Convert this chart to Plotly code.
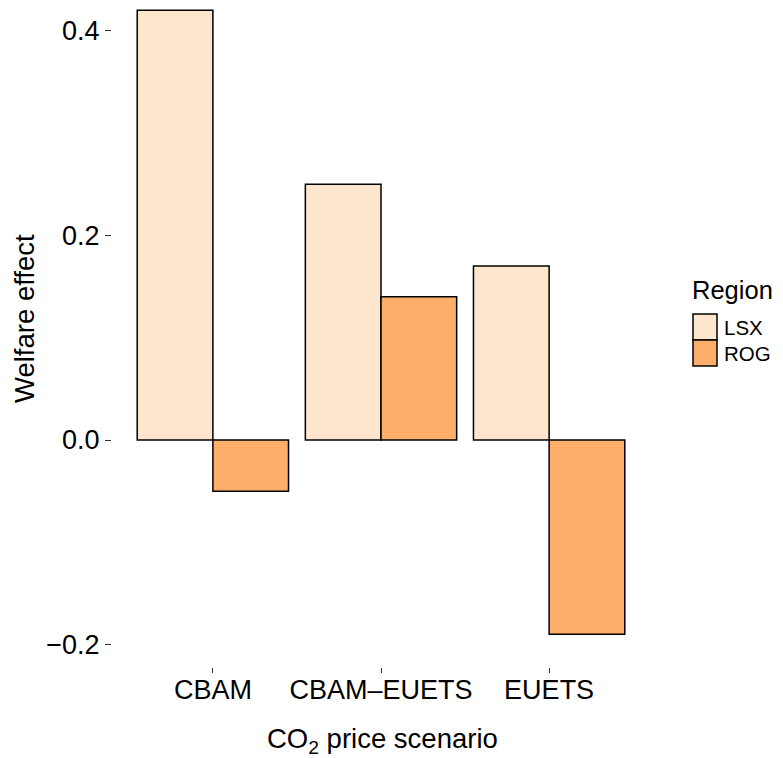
import plotly.graph_objects as go

scenarios = ["CBAM", "CBAM\u2013EUETS", "EUETS"]
lsx_values = [0.42, 0.25, 0.17]
rog_values = [-0.05, 0.14, -0.19]
regions = ["LSX", "ROG"]
region_colors = ["#FEE6CE", "#FDAE6B"]
y_tick_vals = [-0.2, 0.0, 0.2, 0.4]
y_tick_text = ["\u22120.2", "0.0", "0.2", "0.4"]

FONT = "Liberation Sans, Arial, sans-serif"
OFF = 8  # page body margin
W, H = 783 - OFF, 758 - OFF
ML, MR, MT, MB = 104, 133, 0, 91
PW, PH = W - ML - MR, H - MT - MB


def px_x(sx):
    return (sx - OFF - ML) / PW


def px_y(sy):
    return (H - MB - (sy - OFF)) / PH


fig = go.Figure()
for name, vals, col in zip(regions, [lsx_values, rog_values], region_colors):
    fig.add_trace(go.Bar(
        x=scenarios, y=vals, name=name, showlegend=False,
        marker=dict(color=col, line=dict(color="black", width=1.5)),
    ))

shapes = []
annotations = [
    dict(
        text="Region", xref="paper", yref="paper", x=px_x(690), y=px_y(290),
        xanchor="left", yanchor="middle", showarrow=False,
        font=dict(size=25.5, family=FONT, color="black"),
    ),
    dict(
        text="Welfare effect", xref="paper", yref="paper", x=px_x(24), y=px_y(319),
        xanchor="center", yanchor="middle", showarrow=False, textangle=-90,
        font=dict(size=27.5, family=FONT, color="black"),
    ),
    dict(
        text="CO<sub>2</sub> price scenario", xref="paper", yref="paper",
        x=px_x(382), y=px_y(740),
        xanchor="center", yanchor="middle", showarrow=False,
        font=dict(size=27.5, family=FONT, color="black"),
    ),
]
key_top = 314
key_h = 26
for i, (name, col) in enumerate(zip(regions, region_colors)):
    t = key_top + i * key_h
    shapes.append(dict(
        type="rect", xref="paper", yref="paper",
        x0=px_x(693), x1=px_x(717), y0=px_y(t), y1=px_y(t + key_h),
        fillcolor=col, line=dict(color="black", width=1.5), layer="above",
    ))
    annotations.append(dict(
        text=name, xref="paper", yref="paper", x=px_x(722), y=px_y(t + key_h / 2),
        xanchor="left", yanchor="middle", showarrow=False,
        font=dict(size=20.5, family=FONT, color="black"),
    ))

fig.update_layout(
    width=W, height=H,
    barmode="group", bargap=0.1, bargroupgap=0,
    plot_bgcolor="white", paper_bgcolor="white",
    margin=dict(l=ML, r=MR, t=MT, b=MB, autoexpand=False),
    font=dict(family=FONT, color="black"),
    showlegend=False,
    shapes=shapes,
    annotations=annotations,
    xaxis=dict(
        type="category", range=[-0.6, 2.6], automargin=False,
        showline=False, showgrid=False, zeroline=False,
        ticks="outside", ticklen=5, tickwidth=1.2, tickcolor="#333333",
        tickfont=dict(size=27, color="black"), ticklabelstandoff=-6,
    ),
    yaxis=dict(
        range=[-0.2219, 0.4223], automargin=False,
        tickmode="array", tickvals=y_tick_vals, ticktext=y_tick_text,
        showline=False, showgrid=False, zeroline=False,
        ticks="outside", ticklen=6, tickwidth=1.2, tickcolor="#333333",
        tickfont=dict(size=27, color="black"),
    ),
)

fig.write_html("out.html")
